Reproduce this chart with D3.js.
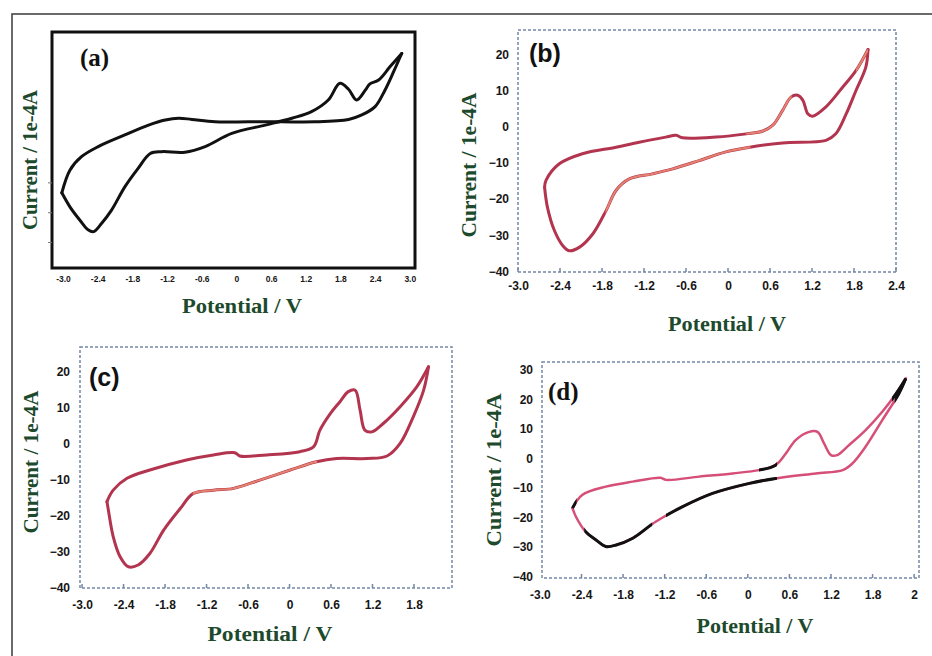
<!DOCTYPE html>
<html>
<head>
<meta charset="utf-8">
<script src="https://cdn.jsdelivr.net/npm/d3@7"></script>
<style>
body{margin:0;background:#fff}
svg{display:block}
</style>
</head>
<body>
<div id="fig"></div>
<script>
// cyclic voltammograms, [potential V, current 1e-4 A]
// each loop split in two branches: upper (tip -> left vertex), lower (left vertex -> tip)
const aUpper = [[2.86,23.2],[2.72,17.1],[2.57,10.9],[2.40,5.4],[2.17,2.6],[1.94,1.1],[1.36,0.3],[0.78,0.3],[0.21,0.3],[-0.37,0.3],[-0.77,1.1],[-1.00,1.5],[-1.23,0.9],[-1.52,-0.8],[-1.93,-4.1],[-2.39,-8.0],[-2.68,-11.4],[-2.88,-15.9],[-3.02,-23.5]];
const aLower = [[-3.02,-23.5],[-2.88,-28.2],[-2.71,-32.6],[-2.56,-36.0],[-2.47,-36.5],[-2.33,-33.7],[-2.16,-29.3],[-1.93,-21.5],[-1.70,-15.3],[-1.49,-10.3],[-1.29,-9.7],[-0.89,-9.9],[-0.54,-8.0],[-0.08,-3.6],[0.50,-0.8],[0.96,1.5],[1.30,3.7],[1.59,7.6],[1.79,13.2],[1.94,11.2],[2.08,7.6],[2.23,10.9],[2.31,13.0],[2.46,14.3],[2.66,18.8],[2.86,23.2]];

const bUpper = [[2.00,21.5],[1.83,15.7],[1.64,11.1],[1.40,5.6],[1.21,3.0],[1.14,3.7],[1.07,7.4],[0.995,8.8],[0.90,8.3],[0.78,4.6],[0.64,0.5],[0.50,-1.1],[0.26,-1.9],[-0.17,-2.8],[-0.65,-3.0],[-0.74,-2.3],[-0.89,-2.8],[-1.27,-4.2],[-1.60,-5.6],[-2.08,-7.4],[-2.41,-10.2],[-2.60,-14.8],[-2.62,-16.7]];
const bLower = [[-2.62,-16.7],[-2.58,-22.2],[-2.48,-28.7],[-2.36,-32.9],[-2.27,-34.3],[-2.12,-33.3],[-1.93,-29.6],[-1.74,-23.1],[-1.60,-17.6],[-1.41,-14.4],[-1.08,-13.0],[-0.79,-11.6],[-0.41,-9.3],[-0.03,-6.9],[0.31,-5.6],[0.78,-4.4],[1.40,-3.7],[1.54,-1.9],[1.69,3.7],[1.83,10.2],[1.97,16.7],[2.00,21.5]];

const cUpper = [[2.01,21.3],[1.84,15.7],[1.60,10.2],[1.36,5.6],[1.19,3.2],[1.09,3.7],[1.02,9.3],[0.95,14.8],[0.85,14.4],[0.73,11.6],[0.59,8.3],[0.44,3.7],[0.35,-0.9],[0.15,-2.3],[-0.33,-3.2],[-0.72,-3.5],[-0.79,-2.6],[-1.10,-3.2],[-1.49,-4.6],[-2.02,-7.4],[-2.35,-9.7],[-2.55,-13.0],[-2.64,-16.2]];
const cLower = [[-2.64,-16.2],[-2.62,-18.5],[-2.55,-25.9],[-2.45,-31.5],[-2.33,-34.3],[-2.19,-33.8],[-2.02,-30.6],[-1.82,-24.1],[-1.58,-18.1],[-1.39,-13.9],[-1.10,-13.0],[-0.81,-12.5],[-0.43,-10.2],[0.01,-7.4],[0.39,-5.1],[0.68,-4.2],[1.12,-4.2],[1.41,-3.5],[1.60,0],[1.79,7.4],[1.94,14.8],[2.01,21.3]];

const dUpper = [[2.28,27.1],[2.14,22.0],[1.94,15.8],[1.70,9.6],[1.46,4.5],[1.29,1.1],[1.20,1.1],[1.10,5.1],[1.005,9.0],[0.885,9.0],[0.69,6.2],[0.55,1.7],[0.40,-2.3],[0.16,-4.0],[-0.22,-5.1],[-0.70,-6.2],[-1.18,-7.3],[-1.26,-6.6],[-1.66,-7.9],[-2.05,-9.6],[-2.39,-12.4],[-2.53,-16.9]];
const dLower = [[-2.53,-16.9],[-2.48,-19.8],[-2.34,-24.9],[-2.19,-27.7],[-2.05,-29.9],[-1.90,-29.4],[-1.66,-27.1],[-1.33,-21.5],[-0.94,-16.4],[-0.51,-11.9],[0.02,-8.5],[0.40,-6.8],[0.98,-5.1],[1.37,-4.0],[1.51,-1.7],[1.70,4.0],[1.94,13.0],[2.18,22.0],[2.28,27.1]];

// tick positions and their printed labels
const xTicksA = [-3.0,-2.4,-1.8,-1.2,-0.6,0,0.6,1.2,1.8,2.4,3.0];
const xLabelsA = ['-3.0','-2.4','-1.8','-1.2','-0.6','0','0.6','1.2','1.8','2.4','3.0'];
const xTicksB = [-3.0,-2.4,-1.8,-1.2,-0.6,0,0.6,1.2,1.8,2.4];
const xLabelsB = ['-3.0','-2.4','-1.8','-1.2','-0.6','0','0.6','1.2','1.8','2.4'];
const xTicksC = [-3.0,-2.4,-1.8,-1.2,-0.6,0,0.6,1.2,1.8];
const xLabelsC = ['-3.0','-2.4','-1.8','-1.2','-0.6','0','0.6','1.2','1.8'];
const xTicksD = [-3.0,-2.4,-1.8,-1.2,-0.6,0,0.6,1.2,1.8,2.4];
const xLabelsD = ['-3.0','-2.4','-1.8','-1.2','-0.6','0','0.6','1.2','1.8','2'];
const yTicksBC = [20,10,0,-10,-20,-30,-40];
const yTicksD = [30,20,10,0,-10,-20,-30,-40];
const yTicksA = [-20,-30,-40]; // unlabelled

const xTitle = 'Potential / V', yTitle = 'Current / 1e-4A';

const svg = d3.select('#fig').append('svg').attr('width',932).attr('height',656);

// outer figure border (top + left only visible)
svg.append('path').attr('d','M12,656V14H932')
	.style('fill','none').style('stroke','#3a3a3a').style('stroke-width','1.5px');

let clipId = 0;

function drawPanel(p){
	const x = d3.scaleLinear().domain(p.xDomain).range([p.left,p.right]);
	const y = d3.scaleLinear().domain(p.yDomain).range([p.bottom,p.top]);
	const g = svg.append('g');

	//frame
	g.append('rect')
		.attr('x',p.left).attr('y',p.top)
		.attr('width',p.right-p.left).attr('height',p.bottom-p.top)
		.style('fill','none')
		.style('stroke',p.frameColor)
		.style('stroke-width',p.frameWidth)
		.style('stroke-dasharray',p.frameDash);

	//x axis labels
	const xa = g.append('g').attr('transform','translate(0,'+p.bottom+')')
		.call(d3.axisBottom(x).tickValues(p.xTicks)
			.tickFormat((d,i)=>p.xLabels[i]).tickSize(0).tickPadding(p.xPad));
	xa.select('.domain').remove();
	xa.selectAll('text')
		.style('font-family','"Liberation Sans", Arial, sans-serif')
		.style('font-weight','bold')
		.style('font-size',p.tickFont)
		.style('fill','#161616');

	//small inner ticks on the dashed frames
	if(p.tickIn){
		g.selectAll('line.xt').data(p.xTicks.filter(v=>x(v)>=p.left && x(v)<=p.right)).enter().append('line')
			.attr('x1',d=>x(d)).attr('x2',d=>x(d))
			.attr('y1',p.bottom).attr('y2',p.bottom-4)
			.style('stroke',p.frameColor).style('stroke-width','1.5px');
	}

	//y axis
	const ya = g.append('g').attr('transform','translate('+p.left+',0)')
		.call(d3.axisLeft(y).tickValues(p.yTicks).tickSize(p.yLabels ? 0 : 4).tickPadding(p.yPad)
			.tickFormat(p.yLabels ? d3.format('d') : ''));
	ya.select('.domain').remove();
	ya.selectAll('line').style('stroke','#777').style('stroke-width','1px');
	ya.selectAll('text')
		.style('font-family','"Liberation Sans", Arial, sans-serif')
		.style('font-weight','bold')
		.style('font-size',p.tickFont)
		.style('fill','#161616');

	//curves
	const line = d3.line()
		.x(d=>x(d[0]))
		.y(d=>y(d[1]))
		.curve(d3.curveCatmullRom.alpha(0.5));
	[p.upper,p.lower].forEach(function(br){
		g.append('path').attr('d',line(br))
			.style('fill','none')
			.style('stroke',p.color)
			.style('stroke-width',p.lineWidth)
			.style('stroke-linejoin','round')
			.style('stroke-linecap','round');
	});
	//colour changes along a branch: same branch, clipped to a potential window
	(p.overlays||[]).forEach(function(o){
		const id = 'clip'+(clipId++);
		svg.append('clipPath').attr('id',id).append('rect')
			.attr('x',x(o.from)).attr('y',p.top)
			.attr('width',x(o.to)-x(o.from)).attr('height',p.bottom-p.top);
		g.append('path').attr('d',line(o.branch==='upper' ? p.upper : p.lower))
			.attr('clip-path','url(#'+id+')')
			.style('fill','none')
			.style('stroke',o.color)
			.style('stroke-width',o.width || p.lineWidth);
	});

	//panel letter
	g.append('text').attr('x',p.tagX).attr('y',p.tagY)
		.text(p.tag)
		.style('font-family',p.tagFont)
		.style('font-weight','bold')
		.style('font-size','25px')
		.style('fill','#111');

	//axis titles
	g.append('text').attr('x',p.xTitleX).attr('y',p.xTitleY)
		.attr('text-anchor','middle')
		.attr('textLength',p.xTitleLen).attr('lengthAdjust','spacingAndGlyphs')
		.text(xTitle)
		.style('font-family','"Liberation Serif", "Times New Roman", serif')
		.style('font-weight','bold')
		.style('font-size','20px')
		.style('fill','#1d4a2c');
	g.append('text')
		.attr('transform','translate('+p.yTitleX+','+p.yTitleY+') rotate(-90)')
		.attr('text-anchor','middle')
		.attr('textLength',p.yTitleLen).attr('lengthAdjust','spacingAndGlyphs')
		.text(yTitle)
		.style('font-family','"Liberation Serif", "Times New Roman", serif')
		.style('font-weight','bold')
		.style('font-size','20px')
		.style('fill','#1d4a2c');
}

const dashFrame = '#7488a6';
const red = '#b3344f', lightRed = '#e4826f', pink = '#d64f78';

drawPanel({
	left:52,right:415,top:32,bottom:268,
	xDomain:[-3.19,3.09], yDomain:[-48.7,30.4],
	xTicks:xTicksA, xLabels:xLabelsA, xPad:8, tickFont:'8.5px',
	yTicks:yTicksA, yLabels:false, yPad:0,
	frameColor:'#111', frameWidth:'3px', frameDash:null, tickIn:false,
	upper:aUpper, lower:aLower, color:'#111', lineWidth:'3px',
	tag:'(a)', tagX:80, tagY:66, tagFont:'"Liberation Serif", serif',
	xTitleX:242, xTitleY:313, xTitleLen:120,
	yTitleX:37, yTitleY:160, yTitleLen:140
});

drawPanel({
	left:518,right:896,top:30,bottom:272,
	xDomain:[-3.0,2.4], yDomain:[-40.2,26.9],
	xTicks:xTicksB, xLabels:xLabelsB, xPad:9, tickFont:'12px',
	yTicks:yTicksBC, yLabels:true, yPad:9,
	frameColor:dashFrame, frameWidth:'1.5px', frameDash:'3,2', tickIn:true,
	upper:bUpper, lower:bLower, color:red, lineWidth:'3px',
	overlays:[
		{branch:'lower',from:-1.75,to:0.32,color:lightRed,width:'2px'},
		{branch:'upper',from:0.26,to:0.91,color:lightRed,width:'2px'},
		{branch:'upper',from:1.83,to:2.0,color:lightRed,width:'2px'}
	],
	tag:'(b)', tagX:529, tagY:62, tagFont:'"Liberation Sans", Arial, sans-serif',
	xTitleX:727, xTitleY:331, xTitleLen:118,
	yTitleX:476, yTitleY:165, yTitleLen:145
});

drawPanel({
	left:80,right:452,top:347,bottom:588,
	xDomain:[-3.03,2.35], yDomain:[-40.2,26.8],
	xTicks:xTicksC, xLabels:xLabelsC, xPad:12, tickFont:'12px',
	yTicks:yTicksBC, yLabels:true, yPad:10,
	frameColor:dashFrame, frameWidth:'1.5px', frameDash:'3,2', tickIn:true,
	upper:cUpper, lower:cLower, color:red, lineWidth:'3px',
	overlays:[
		{branch:'lower',from:-1.4,to:0.40,color:lightRed,width:'2px'}
	],
	tag:'(c)', tagX:89, tagY:386, tagFont:'"Liberation Sans", Arial, sans-serif',
	xTitleX:270, xTitleY:641, xTitleLen:125,
	yTitleX:38, yTitleY:462, yTitleLen:143
});

drawPanel({
	left:542,right:919,top:362,bottom:578,
	xDomain:[-2.97,2.47], yDomain:[-40.6,32.7],
	xTicks:xTicksD, xLabels:xLabelsD, xPad:12, tickFont:'12px',
	yTicks:yTicksD, yLabels:true, yPad:9,
	frameColor:dashFrame, frameWidth:'1.5px', frameDash:'3,2', tickIn:true,
	upper:dUpper, lower:dLower, color:pink, lineWidth:'2.5px',
	overlays:[
		{branch:'lower',from:-2.36,to:-1.38,color:'#111',width:'3px'},
		{branch:'lower',from:-1.18,to:0.42,color:'#111',width:'3px'},
		{branch:'upper',from:0.16,to:0.42,color:'#111',width:'3px'},
		{branch:'upper',from:2.08,to:2.3,color:'#111',width:'3px'},
		{branch:'lower',from:2.12,to:2.3,color:'#111',width:'3px'},
		{branch:'upper',from:-2.56,to:-2.47,color:'#111',width:'3px'}
	],
	tag:'(d)', tagX:548, tagY:400, tagFont:'"Liberation Serif", serif',
	xTitleX:755, xTitleY:633, xTitleLen:117,
	yTitleX:501, yTitleY:470, yTitleLen:153
});
</script>
</body>
</html>
